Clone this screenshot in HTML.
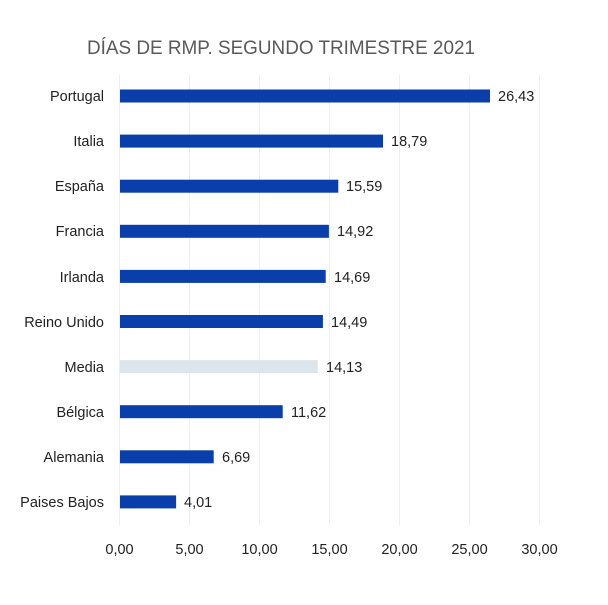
<!DOCTYPE html>
<html><head><meta charset="utf-8"><style>
body{margin:0;background:#fff;}
svg text{font-family:"Liberation Sans",sans-serif;}
</style></head><body>
<svg width="608" height="600" xmlns="http://www.w3.org/2000/svg">
<rect width="608" height="600" fill="#fff"/>
<text x="281" y="54" text-anchor="middle" font-size="19" fill="#595959" textLength="388" lengthAdjust="spacingAndGlyphs">DÍAS DE RMP. SEGUNDO TRIMESTRE 2021</text>
<g stroke="#eeeeee" stroke-width="1">
<line x1="189.5" y1="75" x2="189.5" y2="525"/>
<line x1="259.5" y1="75" x2="259.5" y2="525"/>
<line x1="329.5" y1="75" x2="329.5" y2="525"/>
<line x1="399.5" y1="75" x2="399.5" y2="525"/>
<line x1="469.5" y1="75" x2="469.5" y2="525"/>
<line x1="539.5" y1="75" x2="539.5" y2="525"/>
<line x1="119.5" y1="75" x2="119.5" y2="525"/>
</g>
<g font-size="14.5" fill="#222">
<g text-anchor="end">
<text x="104" y="101">Portugal</text>
<text x="104" y="146">Italia</text>
<text x="104" y="191">España</text>
<text x="104" y="236">Francia</text>
<text x="104" y="282">Irlanda</text>
<text x="104" y="327">Reino Unido</text>
<text x="104" y="372">Media</text>
<text x="104" y="417">Bélgica</text>
<text x="104" y="462">Alemania</text>
<text x="104" y="507">Paises Bajos</text>
</g>
<rect x="120" y="89.5" width="370" height="13" fill="#0a3eaa"/>
<rect x="120" y="134.6" width="263" height="13" fill="#0a3eaa"/>
<rect x="120" y="179.7" width="218.3" height="13" fill="#0a3eaa"/>
<rect x="120" y="224.8" width="208.9" height="13" fill="#0a3eaa"/>
<rect x="120" y="269.9" width="205.7" height="13" fill="#0a3eaa"/>
<rect x="120" y="315" width="202.9" height="13" fill="#0a3eaa"/>
<rect x="120" y="360.1" width="197.8" height="13" fill="#dde5ec"/>
<rect x="120" y="405.2" width="162.7" height="13" fill="#0a3eaa"/>
<rect x="120" y="450.3" width="93.7" height="13" fill="#0a3eaa"/>
<rect x="120" y="495.4" width="56.1" height="13" fill="#0a3eaa"/>
<text x="498" y="101">26,43</text>
<text x="391" y="146">18,79</text>
<text x="346" y="191">15,59</text>
<text x="337" y="236">14,92</text>
<text x="334" y="282">14,69</text>
<text x="331" y="327">14,49</text>
<text x="326" y="372">14,13</text>
<text x="291" y="417">11,62</text>
<text x="222" y="462">6,69</text>
<text x="184" y="507">4,01</text>
<g text-anchor="middle">
<text x="119.5" y="554">0,00</text>
<text x="189.5" y="554">5,00</text>
<text x="259.5" y="554">10,00</text>
<text x="329.5" y="554">15,00</text>
<text x="399.5" y="554">20,00</text>
<text x="469.5" y="554">25,00</text>
<text x="539.5" y="554">30,00</text>
</g>
</g>
</svg>
</body></html>
